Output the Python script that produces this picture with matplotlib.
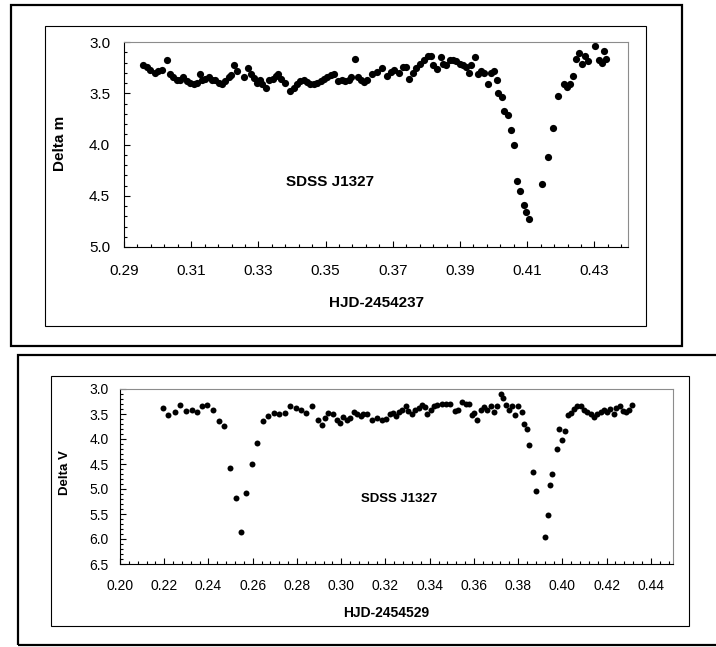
import numpy as np
import matplotlib.pyplot as plt
from matplotlib.patches import Rectangle
from matplotlib.ticker import FixedLocator, FormatStrFormatter

plt.rcParams['font.family'] = ['Liberation Sans', 'DejaVu Sans']

# Light curve, night 1 (HJD-2454237)
top_hjd = [0.2958, 0.2968, 0.2978, 0.2993, 0.3002, 0.3013, 0.3027, 0.3037, 0.3047, 0.3057,
           0.3067, 0.3077, 0.3087, 0.3097, 0.3107, 0.3117, 0.3125, 0.3132, 0.3142, 0.3152,
           0.3162, 0.3172, 0.3182, 0.3192, 0.3202, 0.3212, 0.3219, 0.3227, 0.3235, 0.3257,
           0.3269, 0.3277, 0.3287, 0.3297, 0.3305, 0.3312, 0.3322, 0.3332, 0.3342, 0.3352,
           0.3359, 0.3367, 0.3379, 0.3395, 0.3405, 0.3415, 0.3425, 0.3435, 0.3445, 0.3455,
           0.3465, 0.3475, 0.3485, 0.3495, 0.3505, 0.3515, 0.3525, 0.3537, 0.3549, 0.3559,
           0.3569, 0.3577, 0.3587, 0.3595, 0.3605, 0.3614, 0.3624, 0.3639, 0.3654, 0.3669,
           0.3682, 0.3694, 0.3704, 0.3719, 0.3729, 0.3739, 0.3749, 0.3759, 0.3769, 0.3782,
           0.3792, 0.3804, 0.3814, 0.3819, 0.3832, 0.3842, 0.3849, 0.3859, 0.3869, 0.3879,
           0.3889, 0.3899, 0.3909, 0.3919, 0.3926, 0.3934, 0.3944, 0.3954, 0.3962, 0.3972,
           0.3982, 0.3992, 0.4002, 0.4009, 0.4012, 0.4024, 0.4032, 0.4042, 0.4052, 0.4060,
           0.4069, 0.4079, 0.4089, 0.4096, 0.4106, 0.4144, 0.4162, 0.4176, 0.4192, 0.4209,
           0.4219, 0.4226, 0.4236, 0.4244, 0.4254, 0.4264, 0.4272, 0.4282, 0.4302, 0.4314,
           0.4322, 0.4329, 0.4334]
top_dm = [3.22, 3.24, 3.27, 3.30, 3.28, 3.27, 3.18, 3.31, 3.34, 3.37,
          3.37, 3.34, 3.38, 3.40, 3.41, 3.40, 3.31, 3.37, 3.36, 3.34,
          3.37, 3.37, 3.40, 3.41, 3.38, 3.34, 3.32, 3.22, 3.28, 3.34,
          3.25, 3.31, 3.35, 3.40, 3.37, 3.41, 3.45, 3.37, 3.36, 3.33,
          3.31, 3.36, 3.40, 3.48, 3.45, 3.41, 3.38, 3.37, 3.39, 3.41,
          3.41, 3.40, 3.38, 3.36, 3.34, 3.32, 3.31, 3.38, 3.37, 3.38,
          3.37, 3.34, 3.17, 3.34, 3.37, 3.39, 3.37, 3.31, 3.29, 3.25,
          3.33, 3.29, 3.27, 3.30, 3.24, 3.24, 3.36, 3.30, 3.25, 3.21,
          3.18, 3.14, 3.14, 3.22, 3.26, 3.15, 3.21, 3.22, 3.18, 3.18,
          3.19, 3.21, 3.22, 3.24, 3.30, 3.22, 3.15, 3.31, 3.28, 3.30,
          3.41, 3.30, 3.28, 3.37, 3.50, 3.54, 3.67, 3.71, 3.86, 4.00,
          4.36, 4.45, 4.59, 4.66, 4.73, 4.39, 4.12, 3.84, 3.53, 3.41,
          3.44, 3.41, 3.33, 3.17, 3.11, 3.21, 3.14, 3.19, 3.04, 3.18,
          3.20, 3.09, 3.17]

# Light curve, night 2 (HJD-2454529)
bot_hjd = [0.2196, 0.2218, 0.2247, 0.2271, 0.2300, 0.2324, 0.2347, 0.2369, 0.2395, 0.2422,
           0.2448, 0.2471, 0.2496, 0.2523, 0.2548, 0.2571, 0.2595, 0.2619, 0.2648, 0.2671,
           0.2694, 0.2719, 0.2746, 0.2769, 0.2795, 0.2818, 0.2840, 0.2870, 0.2893, 0.2912,
           0.2927, 0.2942, 0.2964, 0.2983, 0.2995, 0.3006, 0.3024, 0.3039, 0.3058, 0.3073,
           0.3088, 0.3098, 0.3118, 0.3141, 0.3163, 0.3186, 0.3201, 0.3219, 0.3234, 0.3249,
           0.3261, 0.3276, 0.3292, 0.3303, 0.3319, 0.3334, 0.3352, 0.3367, 0.3379, 0.3389,
           0.3405, 0.3420, 0.3434, 0.3454, 0.3472, 0.3490, 0.3514, 0.3529, 0.3545, 0.3563,
           0.3578, 0.3590, 0.3600, 0.3615, 0.3631, 0.3646, 0.3660, 0.3676, 0.3691, 0.3703,
           0.3721, 0.3731, 0.3746, 0.3759, 0.3774, 0.3784, 0.3799, 0.3816, 0.3826, 0.3838,
           0.3849, 0.3867, 0.3882, 0.3921, 0.3934, 0.3944, 0.3954, 0.3974, 0.3985, 0.3997,
           0.4012, 0.4027, 0.4037, 0.4052, 0.4067, 0.4083, 0.4098, 0.4113, 0.4128, 0.4143,
           0.4158, 0.4174, 0.4188, 0.4203, 0.4214, 0.4233, 0.4244, 0.4259, 0.4274, 0.4289,
           0.4301, 0.4316]
bot_dv = [3.37, 3.51, 3.45, 3.32, 3.43, 3.41, 3.46, 3.34, 3.32, 3.42,
          3.63, 3.74, 4.57, 5.19, 5.86, 5.09, 4.51, 4.07, 3.63, 3.54,
          3.47, 3.50, 3.47, 3.34, 3.37, 3.41, 3.47, 3.33, 3.61, 3.71,
          3.57, 3.47, 3.49, 3.61, 3.67, 3.55, 3.62, 3.57, 3.45, 3.49,
          3.54, 3.49, 3.50, 3.62, 3.57, 3.61, 3.59, 3.50, 3.47, 3.54,
          3.45, 3.41, 3.34, 3.43, 3.50, 3.41, 3.37, 3.32, 3.35, 3.49,
          3.42, 3.34, 3.32, 3.30, 3.30, 3.29, 3.43, 3.42, 3.25, 3.29,
          3.30, 3.52, 3.47, 3.61, 3.42, 3.35, 3.41, 3.34, 3.45, 3.34,
          3.10, 3.17, 3.32, 3.42, 3.34, 3.52, 3.34, 3.45, 3.69, 3.79,
          4.12, 4.65, 5.05, 5.95, 5.52, 4.92, 4.70, 4.19, 3.79, 4.02,
          3.83, 3.52, 3.47, 3.39, 3.34, 3.34, 3.41, 3.45, 3.49, 3.55,
          3.49, 3.45, 3.42, 3.45, 3.39, 3.50, 3.37, 3.34, 3.43, 3.45,
          3.41, 3.32]

top_xticks = np.arange(0.29, 0.4351, 0.02)
top_yticks = np.arange(3.0, 5.01, 0.5)
bot_xticks = np.arange(0.20, 0.4451, 0.02)
bot_yticks = np.arange(3.0, 6.51, 0.5)

W, H = 716, 647
fig = plt.figure(figsize=(W / 100, H / 100), dpi=100)


def frame(x0, y0, x1, y1, lw):
    # rectangle given in pixels from the top left corner
    fig.add_artist(Rectangle((x0 / W, 1 - y1 / H), (x1 - x0) / W, (y1 - y0) / H,
                             transform=fig.transFigure, fill=False, ec='black',
                             lw=lw, clip_on=False))


def style(ax, xpad, ypad, fs):
    ax.spines['top'].set_color('#8c8c8c')
    ax.spines['right'].set_color('#8c8c8c')
    for s in ('left', 'bottom'):
        ax.spines[s].set_color('black')
    for s in ax.spines.values():
        s.set_linewidth(0.8)
    ax.tick_params(which='both', direction='in', top=False, right=False,
                   width=0.8, labelsize=fs)
    ax.tick_params(which='major', length=4)
    ax.tick_params(which='minor', length=2.5)
    ax.tick_params(axis='x', pad=xpad)
    ax.tick_params(axis='y', pad=ypad)
    ax.xaxis.set_major_formatter(FormatStrFormatter('%.2f'))
    ax.yaxis.set_major_formatter(FormatStrFormatter('%.1f'))


# frames around each chart
frame(11, 5, 682, 346, 1.6)
frame(45, 26, 646, 326, 0.8)
frame(18, 355, 730, 645, 1.6)
frame(51, 376, 689, 626, 0.8)

# top chart
ax1 = fig.add_axes([124 / W, 1 - 247 / H, 504 / W, 205 / H])
ax1.plot(top_hjd, top_dm, 'o', color='black', ms=5.2, mew=0)
ax1.set_xlim(0.29, 0.44)
ax1.set_ylim(5.0, 3.0)
ax1.set_xticks(top_xticks)
ax1.set_yticks(top_yticks)
ax1.xaxis.set_minor_locator(FixedLocator(np.arange(0.29, 0.4399, 0.004)))
ax1.yaxis.set_minor_locator(FixedLocator(np.arange(3.0, 5.0, 0.1)))
style(ax1, 12, 10, 11)
ax1.text(0.3512, 4.37, 'SDSS J1327', fontsize=11, fontweight='bold',
         ha='center', va='center')
fig.text(376 / W, 1 - 303 / H, 'HJD-2454237', fontsize=11, fontweight='bold',
         ha='center', va='center')
fig.text(60 / W, 1 - 143 / H, 'Delta m', fontsize=11, fontweight='bold',
         ha='center', va='center', rotation=90)

# bottom chart
ax2 = fig.add_axes([120 / W, 1 - 564 / H, 553 / W, 175 / H])
ax2.plot(bot_hjd, bot_dv, 'o', color='black', ms=4.3, mew=0)
ax2.set_xlim(0.20, 0.45)
ax2.set_ylim(6.5, 3.0)
ax2.set_xticks(bot_xticks)
ax2.set_yticks(bot_yticks)
ax2.xaxis.set_minor_locator(FixedLocator(np.arange(0.20, 0.4499, 0.004)))
ax2.yaxis.set_minor_locator(FixedLocator(np.arange(3.0, 6.5, 0.1)))
style(ax2, 11, 8, 10)
ax2.text(0.3261, 5.2, 'SDSS J1327', fontsize=9.5, fontweight='bold',
         ha='center', va='center')
fig.text(386 / W, 1 - 613 / H, 'HJD-2454529', fontsize=10, fontweight='bold',
         ha='center', va='center')
fig.text(65 / W, 1 - 473 / H, 'Delta V', fontsize=9.5, fontweight='bold',
         ha='center', va='center', rotation=90)

fig.savefig('out.png', dpi=100, facecolor='white')
